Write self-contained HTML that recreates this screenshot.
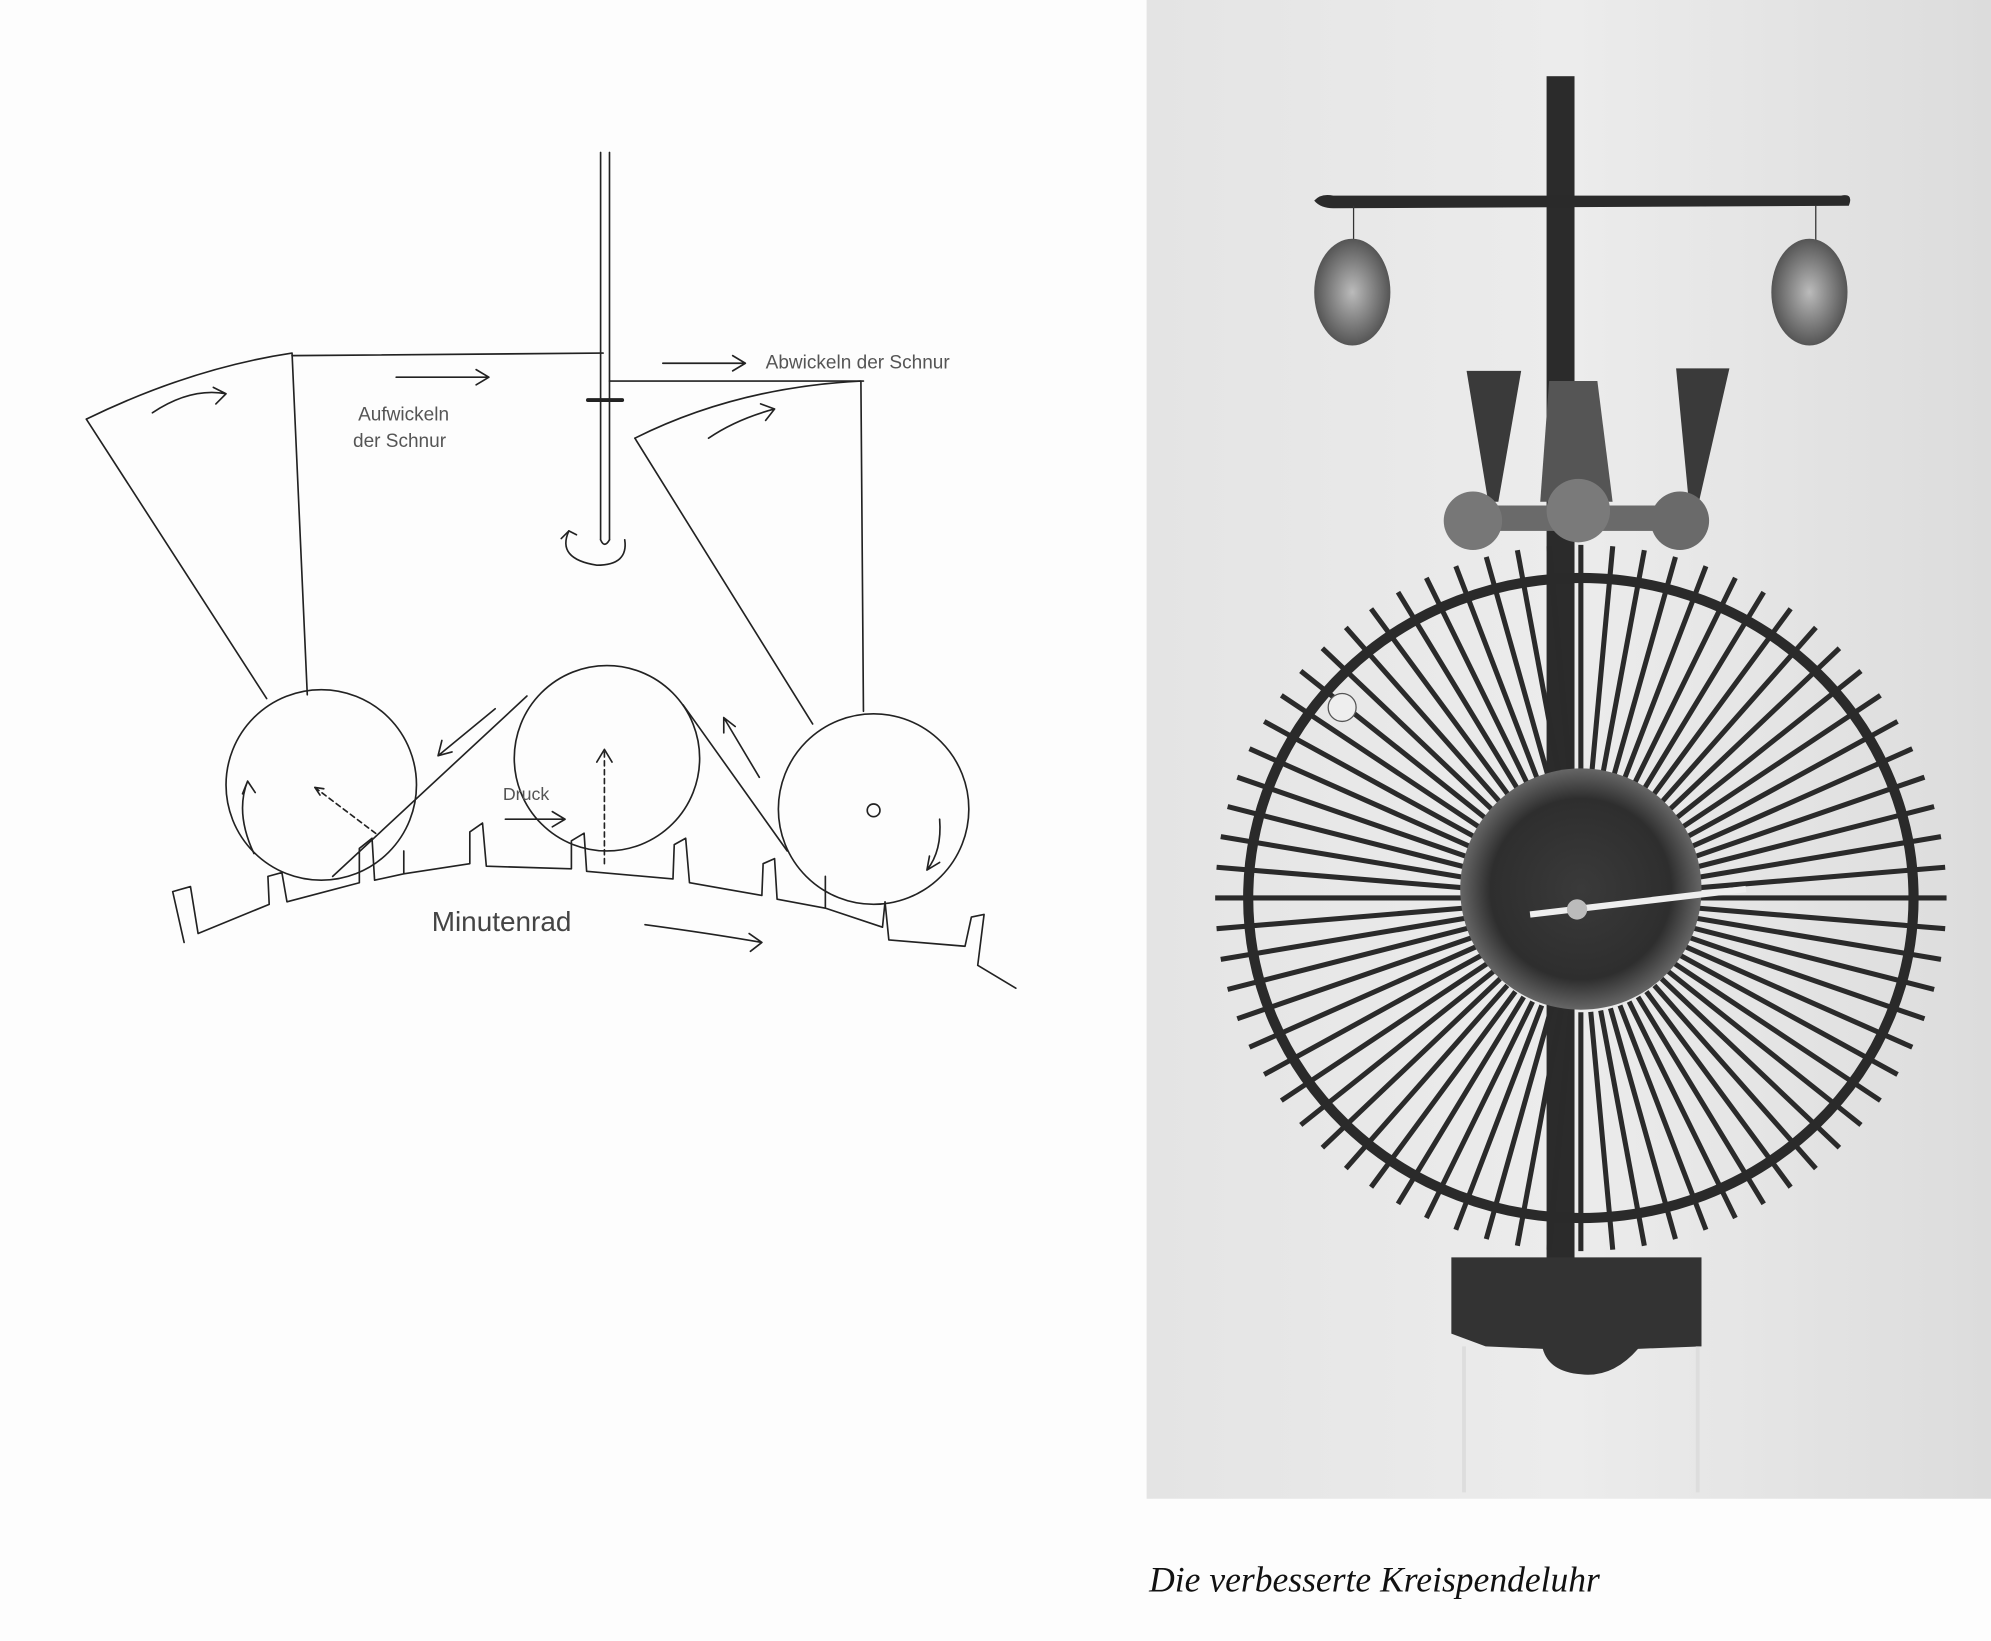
<!DOCTYPE html>
<html><head><meta charset="utf-8"><style>
html,body{margin:0;padding:0;background:#fff;}
svg{display:block}
</style></head><body>
<svg id="s" width="1991" height="1641" viewBox="0 0 1568 1292" preserveAspectRatio="none" xmlns="http://www.w3.org/2000/svg">
<defs>
<linearGradient id="bg" x1="0" y1="0" x2="1" y2="0"><stop offset="0" stop-color="#e4e4e4"/><stop offset="0.5" stop-color="#ececec"/><stop offset="1" stop-color="#dcdcdc"/></linearGradient>
<radialGradient id="hub"><stop offset="0" stop-color="#3a3a3a"/><stop offset="0.75" stop-color="#2e2e2e"/><stop offset="1" stop-color="#666"/></radialGradient>
<radialGradient id="stone"><stop offset="0" stop-color="#bbb"/><stop offset="1" stop-color="#555"/></radialGradient>
</defs>
<rect width="1568" height="1292" fill="#fdfdfd"/>
<g fill="none" stroke="#222" stroke-width="1.3" stroke-linecap="round" stroke-linejoin="round">
<line x1="473" y1="120" x2="473" y2="425"/><line x1="480" y1="120" x2="480" y2="425"/>
<path d="M473,425 Q476,432 480,425"/>
<path d="M448,418 Q438,440 470,445 Q495,445 492,425"/>
<path d="M448,418 l-6,6 M448,418 l6,3"/>
<line x1="230" y1="280" x2="475" y2="278"/>
<line x1="480" y1="300" x2="680" y2="300"/>
<line x1="463" y1="315" x2="490" y2="315" stroke-width="3"/>
<path d="M68,330 Q150,290 230,278 L242,547"/>
<line x1="68" y1="330" x2="210" y2="550"/>
<path d="M500,345 Q580,305 678,300 L680,560"/>
<line x1="500" y1="345" x2="640" y2="570"/>
<circle cx="253" cy="618" r="75"/>
<circle cx="478" cy="597" r="73"/>
<circle cx="688" cy="637" r="75"/>
<line x1="262" y1="690" x2="415" y2="548"/>
<line x1="538" y1="555" x2="620" y2="670"/>
<path d="M145,742 L136,702 L150,698 L156,735 L212,712 L211,690 L222,687 L226,710 L283,695 L283,668 L293,660 L295,693 L318,688 L318,670 M318,688 L370,680 L370,655 L380,648 L383,682 L450,684 L450,662 L460,656 L462,686 L530,692 L531,665 L540,660 L543,695 L600,705 L601,680 L610,676 L612,708 L650,715 L650,690 M650,715 L695,730 L697,710 M697,710 L700,740 L760,745 L765,722 L775,720 L770,760 L800,778"/>
<path d="M120,325 Q150,305 178,310 M178,310 l-10,-5 M178,310 l-8,8"/>
<path d="M312,297 H385 M385,297 l-10,-6 M385,297 l-10,6"/>
<path d="M522,286 H587 M587,286 l-10,-6 M587,286 l-10,6"/>
<path d="M558,345 Q580,330 610,322 M610,322 l-11,-4 M610,322 l-7,9"/>
<path d="M390,558 L345,595 M345,595 l3,-12 M345,595 l11,-3"/>
<path d="M598,612 L570,565 M570,565 l0,12 M570,565 l9,7"/>
<path d="M200,672 Q185,640 195,615 M195,615 l-4,10 M195,615 l6,9"/>
<path d="M740,645 Q742,670 730,685 M730,685 l2,-11 M730,685 l10,-6"/>
<path d="M398,645 H445 M445,645 l-10,-6 M445,645 l-10,6"/>
<path d="M248,620 L297,657" stroke-dasharray="4,3"/>
<path d="M248,620 l4,6 M248,620 l7,1"/>
<line x1="476" y1="592" x2="476" y2="680" stroke-dasharray="4,3"/>
<path d="M470,600 L476,590 L482,600"/>
<circle cx="688" cy="638" r="5"/>
<path d="M508,728 Q560,735 600,742 M600,742 l-10,-7 M600,742 l-9,7"/>
</g>
<g font-family="Liberation Sans, sans-serif" fill="#555" font-size="15">
<text x="282" y="331">Aufwickeln</text>
<text x="278" y="352">der Schnur</text>
<text x="603" y="290">Abwickeln der Schnur</text>
<text x="396" y="630" font-size="14">Druck</text>
<text x="340" y="733" font-size="22" fill="#444">Minutenrad</text>
</g>
<rect x="903" y="0" width="665" height="1180" fill="url(#bg)"/>
<g id="ph">
<rect x="1218" y="60" width="22" height="940" fill="#2b2b2b"/>
<path d="M1220,300 L1258,300 L1270,395 L1213,395 Z" fill="#555"/>
<path d="M1035,158 Q1040,152 1050,154 L1450,154 Q1460,152 1456,162 L1050,164 Q1040,164 1035,158Z" fill="#2a2a2a"/>
<line x1="1066" y1="162" x2="1066" y2="190" stroke="#333"/>
<line x1="1430" y1="162" x2="1430" y2="190" stroke="#333"/>
<ellipse cx="1065" cy="230" rx="30" ry="42" fill="url(#stone)"/>
<ellipse cx="1425" cy="230" rx="30" ry="42" fill="url(#stone)"/>
<path d="M1155,292 L1198,292 L1180,395 L1172,395 Z" fill="#3a3a3a"/>
<path d="M1320,290 L1362,290 L1338,395 L1330,395 Z" fill="#3a3a3a"/>
<rect x="1160" y="398" width="170" height="20" fill="#6a6a6a"/>
<circle cx="1160" cy="410" r="23" fill="#777"/>
<circle cx="1243" cy="402" r="25" fill="#7a7a7a"/>
<circle cx="1323" cy="410" r="23" fill="#6a6a6a"/>
<g id="spokes" stroke="#2a2a2a" stroke-width="4" stroke-linecap="butt"></g>
<ellipse cx="1245" cy="707" rx="262" ry="252" fill="none" stroke="#2a2a2a" stroke-width="8"/>
<ellipse cx="1245" cy="700" rx="95" ry="95" fill="url(#hub)"/>
<circle cx="1057" cy="557" r="11" fill="#eee" stroke="#555"/>
<line x1="1205" y1="720" x2="1375" y2="700" stroke="#eee" stroke-width="5"/>
<circle cx="1242" cy="716" r="8" fill="#bbb"/>
<path d="M1143,990 L1340,990 L1340,1060 L1290,1062 Q1270,1085 1245,1082 Q1220,1080 1215,1062 L1170,1060 L1143,1050Z" fill="#333"/>
<line x1="1153" y1="1060" x2="1153" y2="1175" stroke="#ddd" stroke-width="3"/>
<line x1="1337" y1="1060" x2="1337" y2="1175" stroke="#ddd" stroke-width="3"/>
</g>
<text x="905" y="1253" font-family="Liberation Serif, serif" font-style="italic" font-size="28" fill="#111">Die verbesserte Kreispendeluhr</text>
</svg>
<script>
var g=document.getElementById('spokes'),cx=1245,cy=707,s='';
for(var i=0;i<72;i++){var a=i*Math.PI*2/72;var c=Math.cos(a),sn=Math.sin(a);
var x1=cx+c*90,y1=cy+sn*90,x2=cx+c*288,y2=cy+sn*278;
s+='<line x1="'+x1.toFixed(1)+'" y1="'+y1.toFixed(1)+'" x2="'+x2.toFixed(1)+'" y2="'+y2.toFixed(1)+'"/>';}
g.innerHTML=s;
</script>
</body></html>
